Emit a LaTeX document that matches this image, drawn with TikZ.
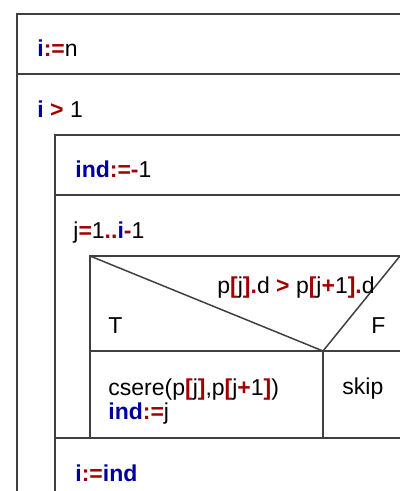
\documentclass[tikz,border=0pt]{standalone}
\usepackage{fontspec}
\setmainfont{Liberation Sans}
\definecolor{kwblue}{RGB}{0,0,160}
\definecolor{opred}{RGB}{160,0,0}
\newcommand{\kw}[1]{\textcolor{kwblue}{\textbf{#1}}}
\newcommand{\op}[1]{\textcolor{opred}{\textbf{#1}}}

\begin{document}
\begin{tikzpicture}[
    x=0.5pt, y=-0.5pt,
    line/.style={draw=black!75, line width=0.75pt},
    code/.style={anchor=base west, inner sep=0pt, align=left, font=\fontsize{11.5}{12}\selectfont}
]
\useasboundingbox (0,0) rectangle (400,491);
\clip (0,0) rectangle (400,491);

% Outer block
\draw[line] (400,14) -- (17,14) -- (17,491);
\draw[line] (17,74) -- (400,74);
\node[code] (assignN) at (37,57) {\kw{i}\op{:=}n};
\node[code] (whileCond) at (37,118) {\kw{i} \op{>} 1};

% Loop body
\draw[line] (400,135) -- (55,135) -- (55,491);
\draw[line] (55,195) -- (400,195);
\node[code] (assignInd) at (75,178) {\kw{ind}\op{:=-}1};
\node[code] (forHead) at (73,239) {j\op{=}1\op{..}\kw{i}\op{-}1};

% Condition
\coordinate (tl) at (90,256);
\coordinate (tr) at (400,256);
\coordinate (tip) at (323,351);
\draw[line] (tr) -- (tl) -- (90,438);
\draw[line] (tl) -- (tip) -- (tr);
\draw[line] (90,351) -- (400,351);
\draw[line] (tip) -- (323,438);
\node[code] (ifCond) at (217,293) {p\op{[}j\op{].}d \op{>} p\op{[}j\op{+}1\op{].}d};
\node[code] (labT) at (108,333) {T};
\node[code] (labF) at (371,333) {F};

% Branches
\node[code] (thenBranch) at (108,419) {csere(p\op{[}j\op{]},p\op{[}j\op{+}1\op{]})\\\kw{ind}\op{:=}j};
\node[code] (elseBranch) at (342,394) {skip};

% After the loop
\draw[line] (55,438) -- (400,438);
\node[code] (assignI) at (75,481) {\kw{i}\op{:=}\kw{ind}};
\end{tikzpicture}
\end{document}
